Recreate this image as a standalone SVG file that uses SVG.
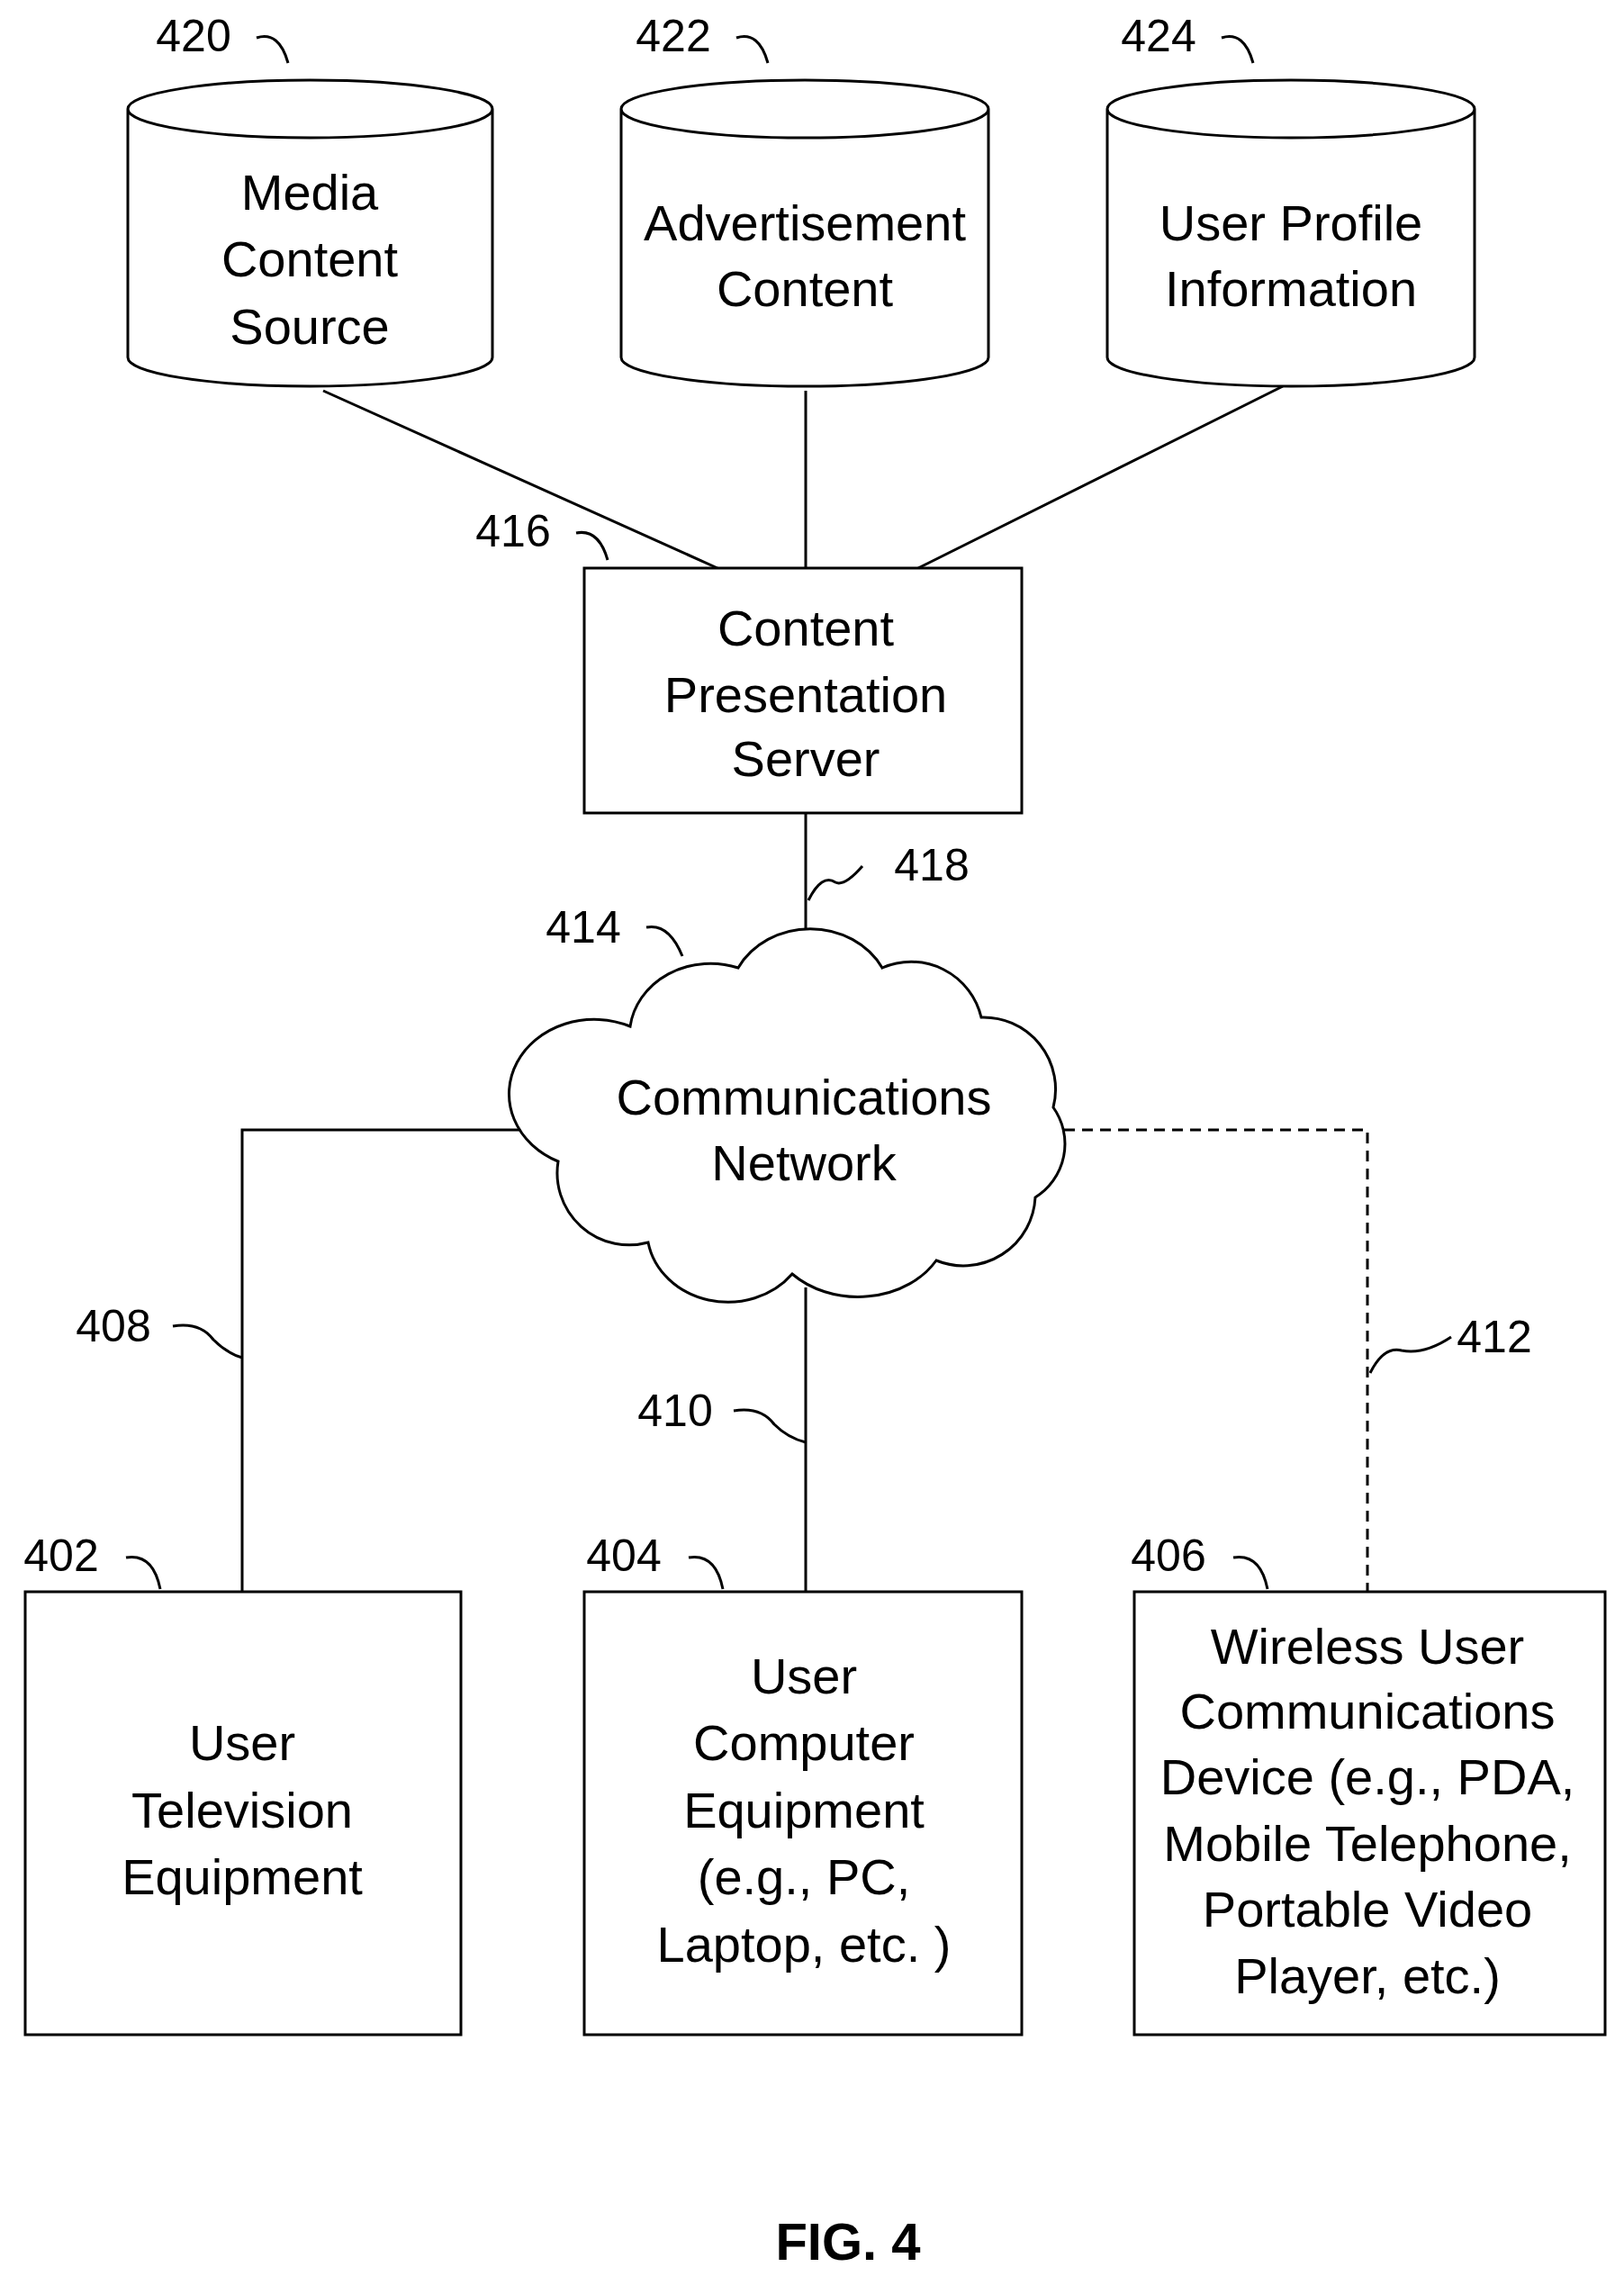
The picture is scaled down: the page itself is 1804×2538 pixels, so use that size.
<svg xmlns="http://www.w3.org/2000/svg" width="1804" height="2538" viewBox="0 0 1804 2538">
<style>
.s{fill:#fff;stroke:#000;stroke-width:3}
.l{fill:none;stroke:#000;stroke-width:3}
.d{fill:none;stroke:#000;stroke-width:3;stroke-dasharray:12 8}
text{font-family:"Liberation Sans",Arial,sans-serif;font-size:56px;text-anchor:middle;fill:#000}
.n{font-size:50px}
</style>
<rect width="1804" height="2538" fill="#fff"/>
<g id="connectors">
<line class="l" x1="359" y1="434" x2="797" y2="631"/>
<line class="l" x1="895" y1="434" x2="895" y2="631"/>
<line class="l" x1="1425" y1="429" x2="1020" y2="631"/>
<line class="l" x1="895" y1="903" x2="895" y2="1065"/>
<polyline class="l" points="606,1255 269,1255 269,1768"/>
<line class="l" x1="895" y1="1430" x2="895" y2="1768"/>
<polyline class="d" points="1182,1255 1519,1255 1519,1768"/>
</g>
<g id="n420"><path class="s" d="M142,121 V397 A202.5,32 0 0 0 547,397 V121 A202.5,32 0 0 0 142,121 A202.5,32 0 0 0 547,121"/><text x="344" y="233">Media</text><text x="344" y="307">Content</text><text x="344" y="382">Source</text><text class="n" x="215" y="57">420</text><path class="l" d="M285,42 q25,-8 35,28"/></g>
<g id="n422"><path class="s" d="M690,121 V397 A204,32 0 0 0 1098,397 V121 A204,32 0 0 0 690,121 A204,32 0 0 0 1098,121"/><text x="894" y="267">Advertisement</text><text x="894" y="340">Content</text><text class="n" x="748" y="57">422</text><path class="l" d="M818,42 q25,-8 35,28"/></g>
<g id="n424"><path class="s" d="M1230,121 V397 A204,32 0 0 0 1638,397 V121 A204,32 0 0 0 1230,121 A204,32 0 0 0 1638,121"/><text x="1434" y="267">User Profile</text><text x="1434" y="340">Information</text><text class="n" x="1287" y="57">424</text><path class="l" d="M1357,42 q25,-8 35,28"/></g>
<g id="n416"><rect class="s" x="649" y="631" width="486" height="272"/><text x="895" y="717">Content</text><text x="895" y="791">Presentation</text><text x="895" y="862">Server</text><text class="n" x="570" y="607">416</text><path class="l" d="M640,592 q25,-5 35,30"/><text class="n" x="1035" y="978">418</text><path class="l" d="M898,1000 q15,-30 30,-20 q10,5 30,-18"/></g>
<g id="n414"><path class="s" d="M700,1140 A90,80 0 0 1 820,1075 A90,80 0 0 1 980,1075 A80,80 0 0 1 1090,1130 A80,80 0 0 1 1170,1230 A70,70 0 0 1 1150,1330 A80,80 0 0 1 1040,1400 A100,80 0 0 1 880,1415 A90,80 0 0 1 720,1380 A80,80 0 0 1 620,1290 A80,70 0 0 1 700,1140 Z"/><text x="893" y="1238">Communications</text><text x="893" y="1311">Network</text><text class="n" x="648" y="1047">414</text><path class="l" d="M718,1030 q25,-5 40,32"/></g>
<g id="n402"><rect class="s" x="28" y="1768" width="484" height="492"/><text x="269" y="1955">User</text><text x="269" y="2030">Television</text><text x="269" y="2104">Equipment</text><text class="n" x="68" y="1745">402</text><path class="l" d="M140,1730 q30,-5 38,35"/><text class="n" x="126" y="1490">408</text><path class="l" d="M192,1473 q30,-5 45,15 q15,15 32,20"/></g>
<g id="n404"><rect class="s" x="649" y="1768" width="486" height="492"/><text x="893" y="1881">User</text><text x="893" y="1955">Computer</text><text x="893" y="2030">Equipment</text><text x="893" y="2104">(e.g., PC,</text><text x="893" y="2179">Laptop, etc. )</text><text class="n" x="693" y="1745">404</text><path class="l" d="M765,1730 q30,-5 38,35"/><text class="n" x="750" y="1584">410</text><path class="l" d="M815,1567 q30,-5 45,15 q15,15 35,20"/></g>
<g id="n406"><rect class="s" x="1260" y="1768" width="523" height="492"/><text x="1519" y="1848">Wireless User</text><text x="1519" y="1920">Communications</text><text x="1519" y="1993">Device (e.g., PDA,</text><text x="1519" y="2067">Mobile Telephone,</text><text x="1519" y="2140">Portable Video</text><text x="1519" y="2214">Player, etc.)</text><text class="n" x="1298" y="1745">406</text><path class="l" d="M1370,1730 q30,-5 38,35"/><text class="n" x="1660" y="1502">412</text><path class="l" d="M1522,1525 q15,-30 35,-25 q25,5 55,-15"/></g>
<text x="942" y="2510" style="font-weight:bold;font-size:58px">FIG. 4</text>
</svg>
